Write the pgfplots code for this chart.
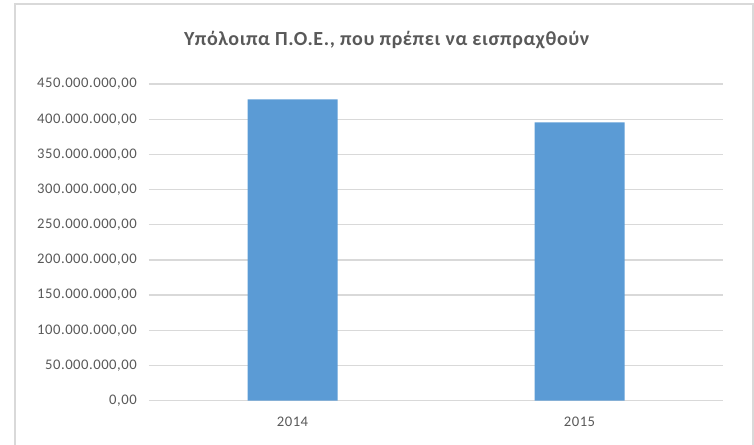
\documentclass[border=0pt]{standalone}
\usepackage{fontspec}
\setmainfont{Carlito}
\newfontfamily\tickfont{Carlito}[LetterSpace=3.5]
\newfontfamily\titlefont{Carlito}[LetterSpace=3]
\usepackage{pgfplots}
\pgfplotsset{compat=1.18}
\definecolor{barblue}{HTML}{5B9BD5}
\definecolor{gridgray}{HTML}{D9D9D9}
\definecolor{textgray}{HTML}{595959}

\begin{document}
\begin{tikzpicture}[x=0.75pt,y=0.75pt]
\useasboundingbox (0,0) rectangle (754,445);
% chart frame, cut at the image edge
\begin{scope}
\clip (0,0) rectangle (754,445);
\draw[gridgray, line width=1.5pt] (15,-20) rectangle (752.5,441);
\end{scope}
\node[text=textgray, font=\titlefont\bfseries\fontsize{15pt}{17pt}\selectfont] at (386.7,404.5) {Υπόλοιπα Π.Ο.Ε., που πρέπει να εισπραχθούν};
\begin{axis}[
  at={(111.75pt,33.225pt)}, anchor=south west,
  scale only axis, width=430.5pt, height=237.5pt,
  ybar, bar width=67.5pt,
  xmin=-0.5, xmax=1.5, ymin=0, ymax=450000000,
  xtick={0,1}, xticklabels={2014,2015},
  ytick={0,50000000,100000000,150000000,200000000,250000000,300000000,350000000,400000000,450000000},
  yticklabels={{0,00},{50.000.000,00},{100.000.000,00},{150.000.000,00},{200.000.000,00},{250.000.000,00},{300.000.000,00},{350.000.000,00},{400.000.000,00},{450.000.000,00}},
  scaled y ticks=false,
  ymajorgrids, grid style={gridgray, line width=1pt},
  axis line style={draw=none}, major tick length=0pt,
  tick label style={font=\tickfont\fontsize{11pt}{13pt}\selectfont, text=textgray, inner sep=0pt},
  yticklabel style={xshift=-9pt},
  xticklabel style={yshift=-12pt},
  clip=false]
\addplot[fill=barblue, draw=none] coordinates {(0,428300000) (1,395600000)};
\end{axis}
\end{tikzpicture}
\end{document}
